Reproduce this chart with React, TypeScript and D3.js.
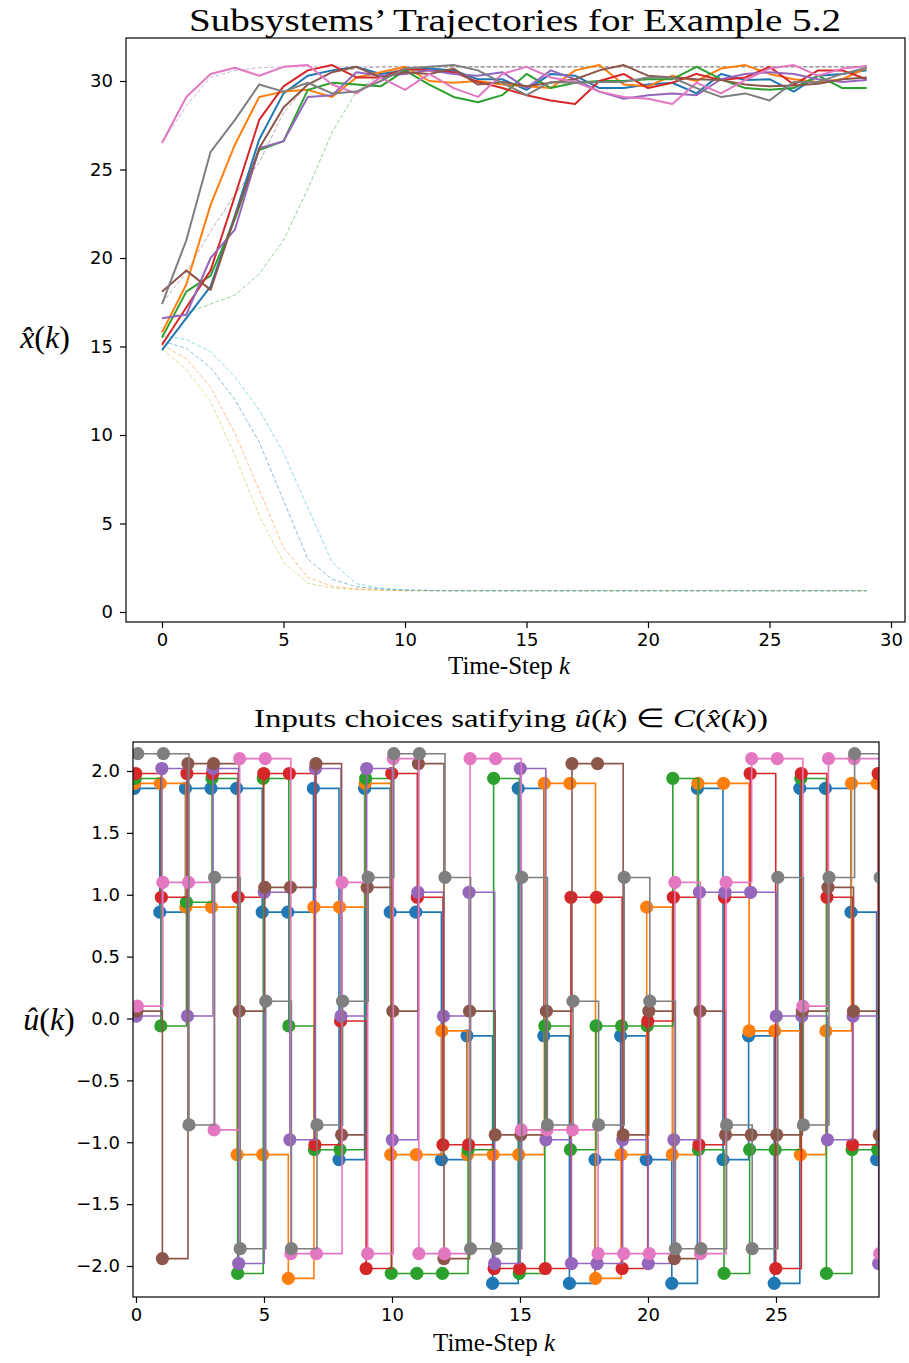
import { useEffect, useRef } from 'react';
import * as d3 from 'd3';

// ---------- top chart: trajectories ----------
const steps = d3.range(30);

const blueX = [14.8, 16.6, 18.4, 22.4, 26.7, 29.3, 30.3, 30.6, 30.8, 30.4, 30.6, 30.7, 30.6, 30.1, 30.1, 29.5, 30.4, 30.3, 29.6, 29.6, 29.8, 29.9, 29.3, 30.4, 30.05, 30.1, 29.4, 30.3, 30.4, 30.6];
const orangeX = [15.8, 18.5, 23.0, 26.4, 29.1, 29.4, 29.5, 29.1, 30.2, 30.5, 30.8, 30.0, 29.9, 30.0, 29.8, 29.7, 29.6, 30.6, 30.9, 29.8, 29.7, 30.3, 30.0, 30.7, 30.9, 30.4, 30.1, 29.95, 30.1, 30.75];
const greenX = [15.5, 18.1, 19.0, 22.2, 26.1, 26.6, 29.5, 29.9, 29.8, 29.7, 30.6, 29.8, 29.1, 28.8, 29.2, 30.4, 29.6, 29.9, 30.0, 30.0, 30.1, 30.1, 30.8, 30.1, 29.6, 29.5, 29.6, 30.3, 29.6, 29.6];
const redX = [15.1, 17.2, 19.3, 23.5, 27.8, 29.7, 30.6, 30.9, 30.2, 30.2, 30.7, 30.6, 30.5, 29.95, 29.6, 29.2, 28.9, 28.7, 30.0, 30.4, 29.6, 29.9, 30.4, 30.05, 30.2, 30.8, 29.8, 30.6, 30.6, 30.1];
const purpleX = [16.6, 16.8, 20.0, 21.6, 26.2, 26.6, 29.1, 29.2, 30.5, 30.3, 30.4, 30.6, 30.4, 30.3, 30.5, 29.6, 30.6, 30.1, 29.4, 29.0, 29.2, 29.3, 29.2, 30.1, 30.4, 30.5, 30.4, 30.1, 29.95, 30.05];
const brownX = [18.1, 19.3, 18.2, 22.3, 26.2, 28.5, 29.8, 30.5, 30.8, 30.2, 30.5, 30.4, 30.7, 29.8, 29.95, 29.7, 29.9, 30.1, 30.6, 30.9, 30.3, 30.2, 30.1, 30.05, 29.8, 29.7, 29.75, 29.85, 30.1, 30.2];
const pinkX = [26.5, 29.1, 30.4, 30.75, 30.3, 30.8, 30.9, 29.8, 29.3, 30.2, 29.5, 30.4, 29.6, 29.1, 30.4, 30.8, 30.2, 29.95, 29.4, 29.1, 29.0, 28.7, 29.9, 29.3, 30.05, 30.7, 30.9, 30.3, 30.7, 30.85];
const grayX = [17.4, 21.0, 26.0, 27.8, 29.8, 29.4, 29.9, 29.3, 29.4, 30.0, 30.7, 30.8, 30.9, 30.6, 29.9, 29.2, 29.95, 29.9, 29.95, 29.95, 30.2, 30.2, 29.6, 29.1, 29.3, 28.9, 29.95, 29.95, 30.4, 30.75];

// dashed reference trajectories
const cyanRef = [15.6, 15.4, 14.7, 13.3, 11.4, 9.0, 5.9, 2.8, 1.6, 1.35, 1.25, 1.22, 1.2, 1.2, 1.2, 1.2, 1.2, 1.2, 1.2, 1.2, 1.2, 1.2, 1.2, 1.2, 1.2, 1.2, 1.2, 1.2, 1.2, 1.2];
const blueRef = [15.3, 14.9, 13.8, 12.0, 9.6, 6.3, 3.0, 1.85, 1.42, 1.3, 1.24, 1.21, 1.2, 1.2, 1.2, 1.2, 1.2, 1.2, 1.2, 1.2, 1.2, 1.2, 1.2, 1.2, 1.2, 1.2, 1.2, 1.2, 1.2, 1.2];
const orangeRef = [15.1, 14.3, 12.7, 10.1, 6.9, 3.65, 1.95, 1.45, 1.3, 1.24, 1.21, 1.2, 1.2, 1.2, 1.2, 1.2, 1.2, 1.2, 1.2, 1.2, 1.2, 1.2, 1.2, 1.2, 1.2, 1.2, 1.2, 1.2, 1.2, 1.2];
const oliveRef = [14.85, 13.7, 11.9, 8.85, 5.45, 2.8, 1.63, 1.35, 1.27, 1.22, 1.2, 1.2, 1.2, 1.2, 1.2, 1.2, 1.2, 1.2, 1.2, 1.2, 1.2, 1.2, 1.2, 1.2, 1.2, 1.2, 1.2, 1.2, 1.2, 1.2];
const greenRef = [16.6, 16.9, 17.4, 17.9, 19.1, 21.0, 23.9, 27.1, 29.4, 30.4, 30.7, 30.8, 30.8, 30.8, 30.8, 30.8, 30.8, 30.8, 30.8, 30.8, 30.8, 30.8, 30.8, 30.8, 30.8, 30.8, 30.8, 30.8, 30.8, 30.8];
const brownRef = [17.45, 19.2, 21.5, 23.6, 25.4, 28.2, 29.8, 30.5, 30.7, 30.8, 30.8, 30.8, 30.8, 30.8, 30.8, 30.8, 30.8, 30.8, 30.8, 30.8, 30.8, 30.8, 30.8, 30.8, 30.8, 30.8, 30.8, 30.8, 30.8, 30.8];
const purpleRef = [26.5, 28.6, 30.2, 30.6, 30.75, 30.8, 30.8, 30.8, 30.8, 30.8, 30.8, 30.8, 30.8, 30.8, 30.8, 30.8, 30.8, 30.8, 30.8, 30.8, 30.8, 30.8, 30.8, 30.8, 30.8, 30.8, 30.8, 30.8, 30.8, 30.8];

// ---------- bottom chart: chosen inputs ----------
const blueU = [2, 1, 2, 2, 2, 1, 1, 2, -1, 2, 1, 1, -1, 0, -2, 2, 0, -2, -1, 0, -1, -2, 2, -1, 0, -2, 2, 2, 1, -1];
const orangeU = [2, 2, 1, 1, -1, -1, -2, 1, 1, 2, -1, -1, 0, -1, -1, -1, 2, 2, -2, -1, 1, -1, 2, 2, 0, 0, -1, 0, 2, 2];
const greenU = [2, 0, 1, 2, -2, 2, 0, -1, -1, 2, -2, -2, -2, -1, 2, -2, 0, -1, 0, 0, 0, 2, -1, -2, -1, -1, 2, -2, -1, -1];
const redU = [2, 1, 2, 2, 1, 2, 2, -1, 0, -2, 2, 1, -1, -1, -2, -2, -2, 1, 1, -2, 0, 1, -1, 1, 2, -2, 2, 1, -1, 2];
const purpleU = [0, 2, 0, 2, -2, 1, -1, 2, 0, 2, -1, 1, 0, 1, -2, 2, -1, -2, -2, -1, -2, -1, 1, 1, 1, 0, 0, -1, 0, -2];
const brownU = [0, -2, 2, 2, 0, 1, 1, 2, -1, 1, 0, 2, -2, 0, -1, -1, 0, 2, 2, -1, 0, -2, 0, -1, -1, -1, 0, 1, 0, -1];
const pinkU = [0, 1, 1, -1, 2, 2, -2, -2, 1, -2, 2, -2, -2, 2, 2, -1, -1, -1, -2, -2, -2, 1, -2, 1, 2, 2, 0, 2, 2, -2];
const grayU = [2, 2, -1, 1, -2, 0, -2, -1, 0, 1, 2, 2, 1, -2, -2, 1, -1, 0, -1, 1, 0, -2, -2, -1, -2, 1, -1, 1, 2, 1];

// small vertical offset per subsystem so overlapping choices stay visible
const offsets = [-0.14, -0.1, -0.06, -0.02, 0.02, 0.06, 0.1, 0.14];

const tab = ['#1f77b4', '#ff7f0e', '#2ca02c', '#d62728', '#9467bd', '#8c564b', '#e377c2', '#7f7f7f', '#bcbd22', '#17becf'];

const solidSeries = [blueX, orangeX, greenX, redX, purpleX, brownX, pinkX, grayX];
const refSeries = [
  { values: oliveRef, color: tab[8] },
  { values: orangeRef, color: tab[1] },
  { values: blueRef, color: tab[0] },
  { values: cyanRef, color: tab[9] },
  { values: greenRef, color: tab[2] },
  { values: brownRef, color: tab[5] },
  { values: purpleRef, color: tab[4] },
];
const inputSeries = [blueU, orangeU, greenU, redU, purpleU, brownU, pinkU, grayU];

const topXTicks = [0, 5, 10, 15, 20, 25, 30];
const topYTicks = [0, 5, 10, 15, 20, 25, 30];
const botXTicks = [0, 5, 10, 15, 20, 25];
const botYTicks = [-2, -1.5, -1, -0.5, 0, 0.5, 1, 1.5, 2];

const tickFont = "'DejaVu Sans', sans-serif";
const serif = "'Liberation Serif', 'Times New Roman', serif";

export default function App() {
  const ref = useRef<SVGSVGElement>(null);

  useEffect(() => {
    const svg = d3.select(ref.current);
    svg.selectAll('*').remove();

    // ---- top panel ----
    const t = { left: 126, right: 905, top: 38, bottom: 622 };
    const x1 = d3.scaleLinear().domain([0, 30]).range([162, 891]);
    const y1 = d3.scaleLinear().domain([0, 30]).range([612, 81]);

    svg.append('clipPath').attr('id', 'clipTop')
      .append('rect').attr('x', t.left).attr('y', t.top).attr('width', t.right - t.left).attr('height', t.bottom - t.top);

    const g1 = svg.append('g').attr('clip-path', 'url(#clipTop)');
    const line1 = d3.line<number>().x((_, i) => x1(steps[i])).y((d) => y1(d));

    refSeries.forEach((s) => {
      g1.append('path').attr('d', line1(s.values)).attr('fill', 'none')
        .attr('stroke', s.color).attr('stroke-opacity', 0.5).attr('stroke-width', 1)
        .attr('stroke-dasharray', '4,2.2');
    });
    solidSeries.forEach((s, i) => {
      g1.append('path').attr('d', line1(s)).attr('fill', 'none')
        .attr('stroke', tab[i]).attr('stroke-width', 2).attr('stroke-linejoin', 'round');
    });

    svg.append('rect').attr('x', t.left).attr('y', t.top).attr('width', t.right - t.left).attr('height', t.bottom - t.top)
      .attr('fill', 'none').attr('stroke', '#000').attr('stroke-width', 1.2);

    const ax1x = svg.append('g').attr('transform', `translate(0,${t.bottom})`)
      .call(d3.axisBottom(x1).tickValues(topXTicks).tickSize(6).tickPadding(5).tickFormat(d3.format('d')));
    const ax1y = svg.append('g').attr('transform', `translate(${t.left},0)`)
      .call(d3.axisLeft(y1).tickValues(topYTicks).tickSize(6).tickPadding(7).tickFormat(d3.format('d')));

    // ---- bottom panel ----
    const b = { left: 133, right: 879, top: 742, bottom: 1297 };
    const x2 = d3.scaleLinear().domain([0, 25]).range([136, 776]);
    const y2 = d3.scaleLinear().domain([-2, 2]).range([1266, 771]);

    svg.append('clipPath').attr('id', 'clipBot')
      .append('rect').attr('x', b.left).attr('y', b.top).attr('width', b.right - b.left).attr('height', b.bottom - b.top);
    const g2 = svg.append('g').attr('clip-path', 'url(#clipBot)');

    inputSeries.forEach((s, i) => {
      const off = offsets[i];
      const pts = s.map((v, k) => [x2(k + off * 0.5), y2(v + off)] as [number, number]);
      const step = d3.line().curve(d3.curveStepAfter);
      const grp = g2.append('g');
      grp.append('path').attr('d', step(pts)).attr('fill', 'none')
        .attr('stroke', tab[i]).attr('stroke-width', 1.6);
      grp.selectAll('circle').data(pts).join('circle')
        .attr('cx', (d) => d[0]).attr('cy', (d) => d[1]).attr('r', 6.6)
        .attr('fill', tab[i]);
    });

    svg.append('rect').attr('x', b.left).attr('y', b.top).attr('width', b.right - b.left).attr('height', b.bottom - b.top)
      .attr('fill', 'none').attr('stroke', '#000').attr('stroke-width', 1.2);

    const ax2x = svg.append('g').attr('transform', `translate(0,${b.bottom})`)
      .call(d3.axisBottom(x2).tickValues(botXTicks).tickSize(6).tickPadding(5).tickFormat(d3.format('d')));
    const ax2y = svg.append('g').attr('transform', `translate(${b.left},0)`)
      .call(d3.axisLeft(y2).tickValues(botYTicks).tickSize(6).tickPadding(7)
        .tickFormat((d) => d3.format('.1f')(d as number).replace('-', '\u2212')));

    [ax1x, ax1y, ax2x, ax2y].forEach((ax) => {
      ax.select('.domain').remove();
      ax.selectAll('line').attr('stroke', '#000').attr('stroke-width', 1.2);
      ax.selectAll('text').attr('font-family', tickFont).attr('font-size', 18).attr('fill', '#000');
    });
  }, []);

  return (
    <div style={{ position: 'absolute', left: 0, top: 0 }}>
      <svg ref={ref} width={909} height={1363} style={{ display: 'block', background: '#fff' }}>
        <g>{/* d3 content rendered above */}</g>
      </svg>
      <svg width={909} height={1363} style={{ position: 'absolute', left: 0, top: 0 }}>
        <text x={515} y={31} textAnchor="middle" fontFamily={serif} fontSize={31} textLength={652} lengthAdjust="spacingAndGlyphs">
          Subsystems’ Trajectories for Example 5.2
        </text>
        <text x={45} y={348} textAnchor="middle" fontFamily={serif} fontSize={32}>
          <tspan fontStyle="italic">x̂</tspan>(<tspan fontStyle="italic">k</tspan>)
        </text>
        <text x={509} y={674} textAnchor="middle" fontFamily={serif} fontSize={25}>
          Time-Step <tspan fontStyle="italic">k</tspan>
        </text>

        <text x={511} y={727} textAnchor="middle" fontFamily={serif} fontSize={26} textLength={514} lengthAdjust="spacingAndGlyphs">
          Inputs choices satifying <tspan fontStyle="italic">û</tspan>(<tspan fontStyle="italic">k</tspan>) ∈ <tspan fontStyle="italic">C</tspan>(<tspan fontStyle="italic">x̂</tspan>(<tspan fontStyle="italic">k</tspan>))
        </text>
        <text x={49} y={1030} textAnchor="middle" fontFamily={serif} fontSize={32}>
          <tspan fontStyle="italic">û</tspan>(<tspan fontStyle="italic">k</tspan>)
        </text>
        <text x={494} y={1351} textAnchor="middle" fontFamily={serif} fontSize={25}>
          Time-Step <tspan fontStyle="italic">k</tspan>
        </text>
      </svg>
    </div>
  );
}
